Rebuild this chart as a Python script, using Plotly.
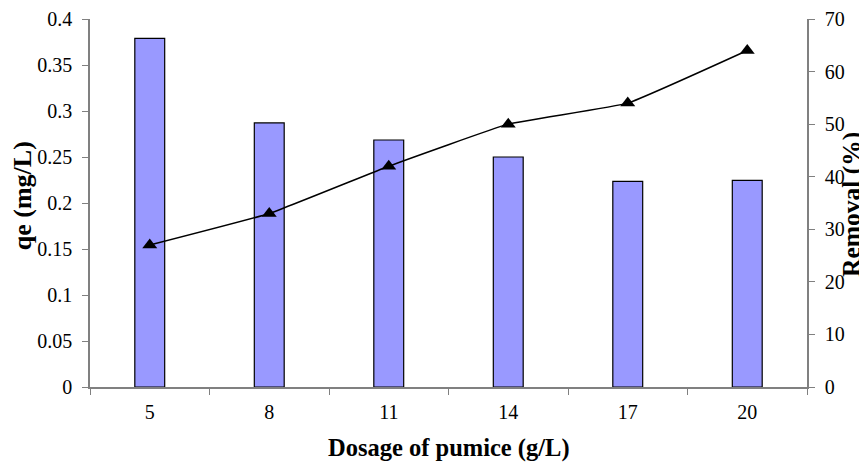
import plotly.graph_objects as go

dosage = ["5", "8", "11", "14", "17", "20"]
qe = [0.379, 0.287, 0.2685, 0.25, 0.2235, 0.2247]
removal = [27, 33, 42, 50, 54, 64]

FONT = "Liberation Serif"
AX = "#808080"

fig = go.Figure()
fig.add_trace(go.Bar(
    x=dosage, y=qe, width=0.25,
    marker=dict(color="#9999FF", line=dict(color="black", width=1.2)),
    yaxis="y", showlegend=False,
))
fig.add_trace(go.Scatter(
    x=dosage, y=removal, mode="lines+markers",
    line=dict(color="black", width=1.5, shape="spline", smoothing=0.3),
    marker=dict(symbol="triangle-up", size=13, color="black"),
    yaxis="y2", showlegend=False,
))

# page body has an 8px margin, so the figure is sized/offset accordingly
fig.update_layout(
    width=859, height=456,
    margin=dict(l=82, r=60, t=11, b=77, autoexpand=False),
    paper_bgcolor="white", plot_bgcolor="white",
    font=dict(family=FONT, size=20, color="black"),
    xaxis=dict(
        type="category", tickson="boundaries", ticks="outside", ticklen=6,
        tickcolor=AX, showline=True, linecolor=AX, linewidth=1.5,
        showgrid=False, zeroline=False, range=[-0.5, 5.5],
        ticklabelstandoff=6, automargin=False,
    ),
    yaxis=dict(
        range=[0, 0.4], dtick=0.05, ticks="outside", ticklen=6, tickcolor=AX,
        showline=True, linecolor=AX, linewidth=1.5, showgrid=False,
        zeroline=False, tickformat="~g", ticklabelstandoff=6, automargin=False,
    ),
    yaxis2=dict(
        range=[0, 70], dtick=10, overlaying="y", side="right",
        ticks="outside", ticklen=6, tickcolor=AX, showline=True,
        linecolor=AX, linewidth=1.5, showgrid=False, zeroline=False,
        ticklabelstandoff=6, automargin=False,
    ),
    annotations=[
        dict(text="<b>Dosage of pumice (g/L)</b>", xref="paper", yref="paper",
             x=0.5, y=-0.165, xanchor="center", yanchor="middle",
             showarrow=False, font=dict(size=24.5)),
        dict(text="<b>qe (mg/L)</b>", xref="paper", yref="paper",
             x=-0.094, y=0.52, xanchor="center", yanchor="middle",
             textangle=-90, showarrow=False, font=dict(size=26)),
        dict(text="<b>Removal (%)</b>", xref="paper", yref="paper",
             x=1.063, y=0.495, xanchor="center", yanchor="middle",
             textangle=-90, showarrow=False, font=dict(size=25.5)),
    ],
)

fig.write_html("out.html")
